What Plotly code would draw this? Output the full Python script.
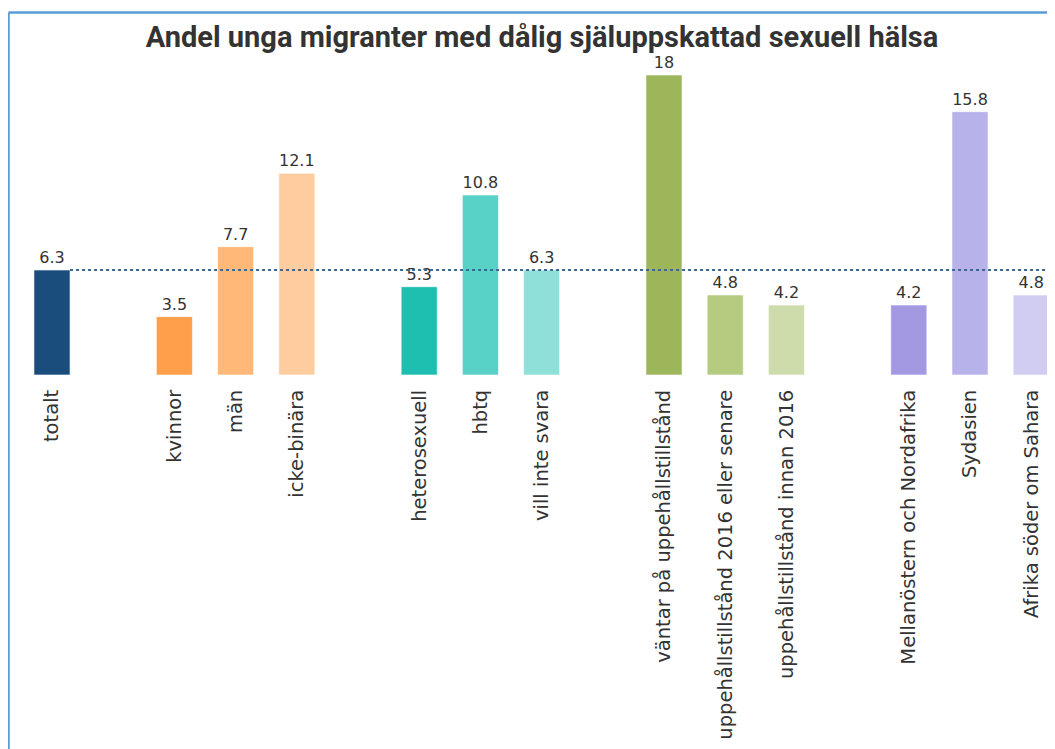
import plotly.graph_objects as go

title_text = "Andel unga migranter med dålig själuppskattad sexuell hälsa"

groups = [
    ["totalt"],
    ["kvinnor", "män", "icke-binära"],
    ["heterosexuell", "hbtq", "vill inte svara"],
    ["väntar på uppehållstillstånd", "uppehållstillstånd 2016 eller senare", "uppehållstillstånd innan 2016"],
    ["Mellanöstern och Nordafrika", "Sydasien", "Afrika söder om Sahara"],
]
group_values = [
    [6.3],
    [3.5, 7.7, 12.1],
    [5.3, 10.8, 6.3],
    [18, 4.8, 4.2],
    [4.2, 15.8, 4.8],
]
group_colors = [
    ["#1b4d7c"],
    ["#ff9f4a", "#ffb877", "#ffcc9f"],
    ["#1ebfb1", "#58d2c6", "#8fe0d8"],
    ["#9db65a", "#b4cb80", "#cedcab"],
    ["#a399e3", "#b8b2ea", "#d0ccf2"],
]

categories, values, colors, xpos = [], [], [], []
pos = 0
for cats, vals, cols in zip(groups, group_values, group_colors):
    for c, v, col in zip(cats, vals, cols):
        categories.append(c)
        values.append(v)
        colors.append(col)
        xpos.append(pos)
        pos += 1
    pos += 1  # empty slot between groups

total_value = values[0]
bar_width = 0.59

# layout geometry (page has an 8px body margin)
W, H = 1047, 741
ml, mr, mt, mb = 13, 0, 52, 374
plot_w = W - ml - mr
plot_h = H - mt - mb
slot_px = 61.2
x0 = xpos[0] - (44 - ml) / slot_px
x1 = x0 + plot_w / slot_px
y_top = 18.9

fig = go.Figure()
fig.add_trace(go.Bar(
    x=xpos, y=values,
    width=bar_width,
    marker=dict(color=colors, line=dict(color="rgba(255,255,255,0.6)", width=1)),
    text=[f"{v:g}" for v in values],
    textposition="outside",
    textfont=dict(family="DejaVu Sans", size=16, color="#333333"),
    cliponaxis=False,
    hoverinfo="skip",
))

# dotted reference line at the total value
fig.add_trace(go.Scatter(
    x=[xpos[0] + bar_width / 2, x1], y=[total_value, total_value],
    mode="lines",
    line=dict(color="#3a6891", width=1.8, dash="dot"),
    hoverinfo="skip",
    cliponaxis=False,
))

# container border (left and top)
px_to_paper_x = lambda p: (p - ml) / plot_w
px_to_paper_y = lambda p: (H - mb - p) / plot_h
border_color = "#5b9bd5"
fig.add_shape(type="line", xref="paper", yref="paper",
              x0=px_to_paper_x(0.5), x1=px_to_paper_x(0.5),
              y0=px_to_paper_y(4.5), y1=px_to_paper_y(H + 5),
              line=dict(color=border_color, width=2.5))
fig.add_shape(type="line", xref="paper", yref="paper",
              x0=px_to_paper_x(0.5), x1=px_to_paper_x(W + 5),
              y0=px_to_paper_y(4.5), y1=px_to_paper_y(4.5),
              line=dict(color=border_color, width=2.5))

fig.update_layout(
    width=W, height=H,
    margin=dict(l=ml, r=mr, t=mt, b=mb),
    paper_bgcolor="white", plot_bgcolor="white",
    showlegend=False,
    title=dict(text=f"<b>{title_text}</b>",
               font=dict(family="Roboto", size=29, color="#333333"),
               x=px_to_paper_x(534), xref="paper", xanchor="center",
               y=1 - 29 / H, yref="container", yanchor="middle"),
    xaxis=dict(range=[x0, x1], tickvals=xpos, ticktext=categories,
               tickangle=-90, showgrid=False, zeroline=False, showline=False,
               ticks="outside", ticklen=6, tickcolor="white",
               tickfont=dict(family="DejaVu Sans", size=19.5, color="#333333")),
    yaxis=dict(range=[0, y_top], visible=False, showgrid=False, zeroline=False),
)

fig.write_html("out.html")
